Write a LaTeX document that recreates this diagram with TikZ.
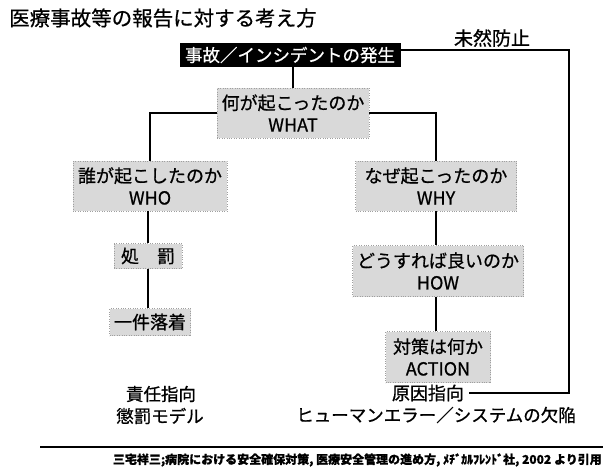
\documentclass[tikz,border=0pt]{standalone}
\usepackage{fontspec}
\setmainfont{Noto Sans CJK JP}[FakeBold=0.7]
\begin{document}
\begin{tikzpicture}[x=1pt,y=-1pt]
\tikzset{
  conn/.style={line width=1.8pt, black},
  gbox/.style={fill=gray!30, draw=gray!75, dotted, inner sep=1pt, align=center,
               font=\fontsize{18}{22}\selectfont},
  topbox/.style={fill=black, text=white, inner sep=1pt, minimum width=221, minimum height=24,
               font=\fontsize{17.5}{19}\selectfont},
  label/.style={inner sep=1pt, align=center, font=\fontsize{17.5}{22}\selectfont},
}
\useasboundingbox (0,0) rectangle (603,469);
\node[anchor=west, inner sep=0pt, font=\fontsize{20.5}{24}\selectfont] (title) at (9,18) {医療事故等の報告に対する考え方};
\node[label, font=\fontsize{19}{22}\selectfont] (mizen) at (492,38) {未然防止};

\node[topbox] (acc) at (290,55) {事故／インシデントの発生};
\node[gbox, minimum width=152, minimum height=50] (what) at (293,113) {何が起こったのか\\WHAT};
\node[gbox, minimum width=154, minimum height=50] (who) at (150,186) {誰が起こしたのか\\WHO};
\node[gbox, minimum width=161, minimum height=50] (why) at (436,186) {なぜ起こったのか\\WHY};
\node[gbox, minimum width=68, minimum height=25] (pun) at (148,256) {処　罰};
\node[gbox, minimum width=81, minimum height=27] (done) at (150,322) {一件落着};
\node[gbox, minimum width=171, minimum height=51] (how) at (438,271) {どうすれば良いのか\\HOW};
\node[gbox, minimum width=105, minimum height=51] (act) at (438,357) {対策は何か\\ACTION};

\node[label] (resp) at (161,394) {責任指向};
\node[label] (pmodel) at (160,416) {懲罰モデル};
\node[label, font=\fontsize{18}{22}\selectfont] (cause) at (428,393) {原因指向};
\node[label] (human) at (436,415) {ヒューマンエラー／システムの欠陥};

\coordinate (ae) at ([yshift=5pt]acc.east);
\coordinate (br) at (569,393);
\draw[conn] (ae) -- (ae -| br) -- (br) -- ([xshift=4pt]cause.east);

\draw[conn] (acc.south -| what.north) -- (what.north);
\draw[conn] (what.west) -| (who.north);
\draw[conn] (what.east) -| (why.north);
\draw[conn] (who.south -| pun.north) -- (pun.north);
\draw[conn] (pun.south) -- (pun.south |- done.north);
\draw[conn] (why.south) -- (why.south |- how.north);
\draw[conn] (how.south -| why.south) -- (why.south |- act.north);

\coordinate (fl) at (40,447);
\coordinate (fr) at (603,447);
\draw[line width=2pt] (fl) -- (fr);
\node[anchor=east, inner sep=0pt, font=\bfseries\fontsize{12}{14}\selectfont] (foot) at (602,460)
  {三宅祥三;病院における安全確保対策, 医療安全管理の進め方, ﾒﾁﾞｶﾙﾌﾚﾝﾄﾞ社, 2002 より引用};
\end{tikzpicture}
\end{document}
